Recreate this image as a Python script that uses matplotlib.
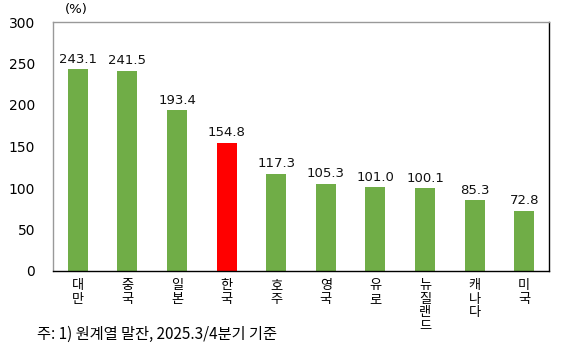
import matplotlib
matplotlib.use("Agg")
import matplotlib.pyplot as plt

plt.rcParams['font.family'] = ['Noto Sans CJK KR', 'DejaVu Sans']

categories = ["대만", "중국", "일본", "한국", "호주", "영국", "유로", "뉴질랜드", "캐나다", "미국"]
values = [243.1, 241.5, 193.4, 154.8, 117.3, 105.3, 101.0, 100.1, 85.3, 72.8]
highlight = "한국"
yticks = [0, 50, 100, 150, 200, 250, 300]

green = "#70AD47"
red = "#FF0000"

fig = plt.figure(figsize=(5.73, 3.45), dpi=100)
ax = fig.add_axes([53/573, 1 - 271/345, 496/573, 249/345])

x = list(range(len(categories)))
colors = [red if c == highlight else green for c in categories]
ax.bar(x, values, width=0.40, color=colors, zorder=2)

for xi, v in zip(x, values):
    ax.text(xi, v + 4, f"{v:.1f}", ha="center", va="bottom", fontsize=9.5,
            family="DejaVu Sans", color="#111111")

ax.set_xlim(-0.5, len(categories) - 0.5)
ax.set_ylim(0, 300)
ax.set_yticks(yticks)
ax.set_yticklabels([str(t) for t in yticks], fontsize=10, family="DejaVu Sans")
ax.tick_params(axis="y", length=0, pad=13)
ax.set_xticks(x)
ax.set_xticklabels(["\n".join(c) for c in categories], fontsize=9.5, linespacing=1.05,
                   va="top")
ax.tick_params(axis="x", length=0, pad=6)

for side in ["left", "top"]:
    ax.spines[side].set_color("#999999")
for side in ["right", "bottom"]:
    ax.spines[side].set_color("#000000")
for s in ax.spines.values():
    s.set_linewidth(1.0)

fig.text(65/573, 1 - 10/345, "(%)", fontsize=9.5, ha="left", va="center",
         family="DejaVu Sans")
fig.text(37/573, 1 - 334/345, "주: 1) 원계열 말잔, 2025.3/4분기 기준", fontsize=11,
         ha="left", va="center")

fig.savefig("out.png", dpi=100)
